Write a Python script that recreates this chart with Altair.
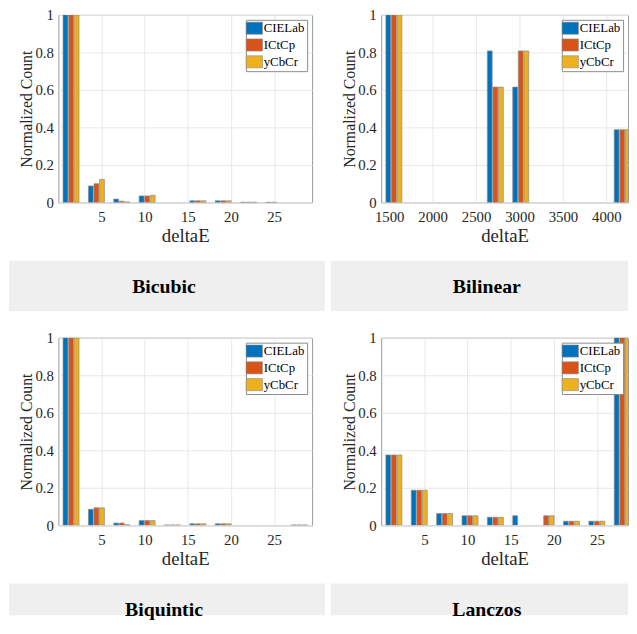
import altair as alt
import pandas as pd

SERIES = ["CIELab", "ICtCp", "yCbCr"]
COLORS = ["#0072BD", "#D95319", "#EDB120"]

PANEL_NAMES = ["Bicubic", "Bilinear", "Biquintic", "Lanczos"]
BIN_START = [0, 1408, 0, 0]
BIN_WIDTH = [2.94, 292, 2.94, 2.94]
X_MAX = [29.4, 4249, 29.4, 28.6]
X_TICKS = [
    [5, 10, 15, 20, 25],
    [1500, 2000, 2500, 3000, 3500, 4000],
    [5, 10, 15, 20, 25],
    [5, 10, 15, 20, 25],
]
Y_TICKS = [0, 0.2, 0.4, 0.6, 0.8, 1]

bicubic_cielab = [1.0, 0.088, 0.018, 0.035, 0.0, 0.009, 0.009, 0.0015, 0.001, 0.0]
bicubic_ictcp = [1.0, 0.100, 0.007, 0.035, 0.0, 0.009, 0.009, 0.0015, 0.001, 0.0]
bicubic_ycbcr = [1.0, 0.123, 0.003, 0.038, 0.0, 0.009, 0.009, 0.0015, 0.0, 0.0]

bilinear_cielab = [1.0, 0, 0, 0, 0.808, 0.615, 0, 0, 0, 0.388]
bilinear_ictcp = [1.0, 0, 0, 0, 0.615, 0.808, 0, 0, 0, 0.388]
bilinear_ycbcr = [1.0, 0, 0, 0, 0.615, 0.808, 0, 0, 0, 0.388]

biquintic_cielab = [1.0, 0.085, 0.012, 0.025, 0.002, 0.008, 0.008, 0, 0, 0.002]
biquintic_ictcp = [1.0, 0.093, 0.012, 0.025, 0.002, 0.008, 0.008, 0, 0, 0.002]
biquintic_ycbcr = [1.0, 0.093, 0.003, 0.025, 0.002, 0.008, 0.008, 0, 0, 0.002]

lanczos_cielab = [0.375, 0.187, 0.063, 0.051, 0.043, 0.051, 0.0, 0.022, 0.022, 1.0]
lanczos_ictcp = [0.375, 0.187, 0.063, 0.051, 0.043, 0.0, 0.051, 0.022, 0.022, 1.0]
lanczos_ycbcr = [0.375, 0.187, 0.063, 0.051, 0.043, 0.0, 0.051, 0.022, 0.022, 1.0]

VALUES = [
    [bicubic_cielab, bicubic_ictcp, bicubic_ycbcr],
    [bilinear_cielab, bilinear_ictcp, bilinear_ycbcr],
    [biquintic_cielab, biquintic_ictcp, biquintic_ycbcr],
    [lanczos_cielab, lanczos_ictcp, lanczos_ycbcr],
]

FONT = "Liberation Serif"
SYMBOL = "M-1.35,-1H1.35V1H-1.35Z"
RIGHT_W = 250


def cell(i, left_col, box_bottom):
    rows = []
    for k, s in enumerate(SERIES):
        for b, v in enumerate(VALUES[i][k]):
            rows.append({"series": s, "k": k, "bin": b, "value": v,
                         "lo": BIN_START[i], "w": BIN_WIDTH[i]})
    df = pd.DataFrame(rows)
    width = 257 if left_col else RIGHT_W
    bars = (
        alt.Chart(df)
        .transform_filter("datum.value > 0")
        .transform_calculate(
            center="datum.lo + (datum.bin + 0.5) * datum.w",
        )
        .transform_calculate(
            xa="datum.center + (datum.k - 1) * 0.22 * datum.w - 0.095 * datum.w",
            xb="datum.center + (datum.k - 1) * 0.22 * datum.w + 0.095 * datum.w",
        )
        .mark_bar(stroke="#8a8a8a", strokeWidth=0.7, clip=True)
        .encode(
            x=alt.X("xa:Q",
                    scale=alt.Scale(domain=[BIN_START[i], X_MAX[i]], nice=False, zero=False),
                    axis=alt.Axis(values=X_TICKS[i], format="d", title="deltaE", grid=True)),
            x2="xb:Q",
            y=alt.Y("value:Q",
                    scale=alt.Scale(domain=[0, 1], nice=False),
                    axis=alt.Axis(values=Y_TICKS, format="~g", title="Normalized Count", grid=True)),
            y2=alt.datum(0),
            color=alt.Color(
                "series:N",
                scale=alt.Scale(domain=SERIES, range=COLORS),
                legend=alt.Legend(
                    title=None, orient="top-right", offset=5,
                    strokeColor="#8c8c8c", fillColor="white", padding=2,
                    symbolType=SYMBOL, symbolSize=150,
                    symbolStrokeColor="#8a8a8a", symbolStrokeWidth=0.6,
                    labelFont=FONT, labelFontSize=13, labelColor="black",
                    labelOffset=3, rowPadding=2,
                ),
            ),
        )
    )
    lab = pd.DataFrame({"name": [PANEL_NAMES[i]]})
    x0 = -50 if left_col else -51
    x1 = 270 if left_col else RIGHT_W
    box = alt.Chart(lab).mark_rect(color="#efefef").encode(
        x=alt.value(x0), x2=alt.value(x1), y=alt.value(249), y2=alt.value(box_bottom)
    )
    txt = alt.Chart(lab).mark_text(
        font=FONT, fontWeight="bold", fontSize=20, color="black", baseline="middle"
    ).encode(x=alt.value(107), y=alt.value(276), text="name:N")
    return alt.layer(bars, box, txt).properties(width=width, height=190)


top = alt.hconcat(cell(0, True, 300), cell(1, False, 300), spacing=4).resolve_scale(color="independent")
bot = alt.hconcat(cell(2, True, 281), cell(3, False, 281), spacing=4).resolve_scale(color="independent")

chart = (
    alt.vconcat(top, bot, spacing=18)
    .resolve_scale(color="independent")
    .properties(padding={"left": 0, "top": -5, "right": 0, "bottom": 0})
    .configure_view(stroke="#9a9a9a", strokeWidth=1)
    .configure_axis(
        domain=False, ticks=False, gridColor="#e8e8e8",
        labelFont=FONT, titleFont=FONT, labelColor="#262626", titleColor="#262626",
        labelFontSize=15, titleFontWeight="normal",
    )
    .configure_axisX(titleFontSize=19, labelPadding=7, titlePadding=3)
    .configure_axisY(titleFontSize=16, labelPadding=5, titlePadding=0)
)

chart.save("out.html", embed_options={"renderer": "svg", "actions": False})
